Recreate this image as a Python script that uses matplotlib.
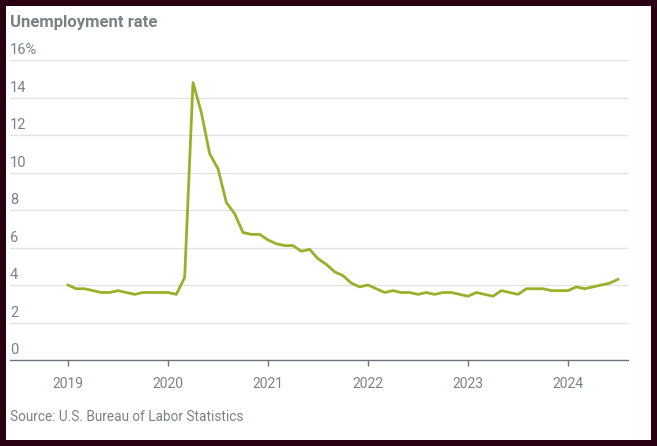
import matplotlib.pyplot as plt
import matplotlib.transforms as mtransforms
import numpy as np

# monthly unemployment rate, Jan 2019 .. Jul 2024
rate_2019 = [4.0, 3.8, 3.8, 3.7, 3.6, 3.6, 3.7, 3.6, 3.5, 3.6, 3.6, 3.6]
rate_2020 = [3.6, 3.5, 4.4, 14.8, 13.2, 11.0, 10.2, 8.4, 7.8, 6.8, 6.7, 6.7]
rate_2021 = [6.4, 6.2, 6.1, 6.1, 5.8, 5.9, 5.4, 5.1, 4.7, 4.5, 4.1, 3.9]
rate_2022 = [4.0, 3.8, 3.6, 3.7, 3.6, 3.6, 3.5, 3.6, 3.5, 3.6, 3.6, 3.5]
rate_2023 = [3.4, 3.6, 3.5, 3.4, 3.7, 3.6, 3.5, 3.8, 3.8, 3.8, 3.7, 3.7]
rate_2024 = [3.7, 3.9, 3.8, 3.9, 4.0, 4.1, 4.3]

years = [2019, 2020, 2021, 2022, 2023, 2024]
y_ticks = [0, 2, 4, 6, 8, 10, 12, 14, 16]

rates = rate_2019 + rate_2020 + rate_2021 + rate_2022 + rate_2023 + rate_2024
x = 2019 + np.arange(len(rates)) / 12.0

TXT = '#7b8286'
GRID = '#e3e3e3'
LINE = '#9bb02a'

plt.rcParams['font.family'] = ['Roboto', 'DejaVu Sans']

fig = plt.figure(figsize=(6.57, 4.46), dpi=100, facecolor='#2a0012')
# white card inside the dark border
fig.patches.append(plt.Rectangle((6 / 657, 6 / 446), 645 / 657, 434 / 446,
                                 transform=fig.transFigure, facecolor='white',
                                 edgecolor='none', zorder=-10))

ax = fig.add_axes([10 / 657, 86 / 446, 618 / 657, 300 / 446])
ax.set_facecolor('none')
ax.plot(x, rates, color=LINE, linewidth=2.0, zorder=3)

ax.set_ylim(0, 16)
ax.set_xlim(2018.42, 2024.60)
for s in ['top', 'right', 'left']:
    ax.spines[s].set_visible(False)
ax.spines['bottom'].set_color('#6f7478')
ax.spines['bottom'].set_linewidth(1.0)

for v in y_ticks[1:]:
    ax.axhline(v, color=GRID, linewidth=1.0, zorder=1)

ax.set_yticks([])
trans = mtransforms.blended_transform_factory(ax.transAxes, ax.transData)
offset = mtransforms.ScaledTranslation(0, 2 / 72, fig.dpi_scale_trans)
for v in y_ticks:
    lab = f'{v}%' if v == y_ticks[-1] else str(v)
    ax.text(0, v, lab, transform=trans + offset, ha='left', va='bottom',
            fontsize=10.5, color=TXT, zorder=4)

ax.set_xticks(years)
ax.set_xticklabels([str(y) for y in years])
ax.tick_params(axis='x', direction='out', length=4, width=1, color='#6f7478',
               labelcolor=TXT, labelsize=10, pad=8)

fig.text(10 / 657, 1 - 22 / 446, 'Unemployment rate', fontsize=12, fontweight='bold',
         color=TXT, ha='left', va='center')
fig.text(10 / 657, 1 - 417 / 446, 'Source: U.S. Bureau of Labor Statistics', fontsize=9.8,
         color=TXT, ha='left', va='center')

fig.savefig('out.png', dpi=100, facecolor=fig.get_facecolor())
